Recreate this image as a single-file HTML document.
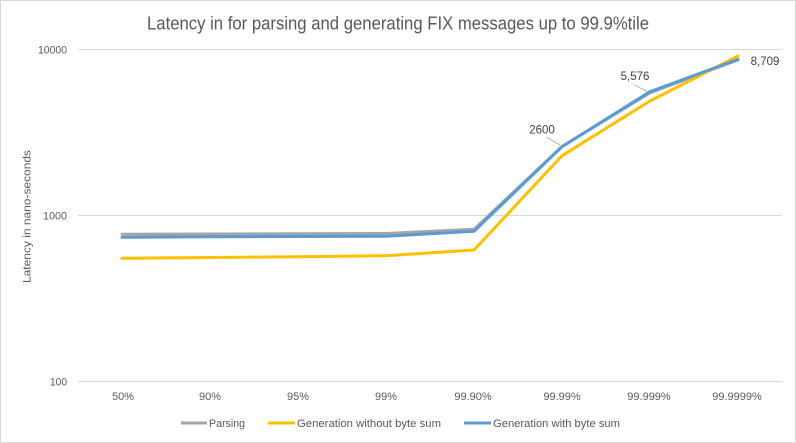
<!DOCTYPE html>
<html>
<head>
<meta charset="utf-8">
<style>
  html,body{margin:0;padding:0;background:#fff;}
  svg{display:block;font-family:"Liberation Sans",sans-serif;}
</style>
</head>
<body>
<svg width="796" height="443" viewBox="0 0 796 443" xmlns="http://www.w3.org/2000/svg">
  <rect x="0.5" y="0.5" width="795" height="442" fill="#fff" stroke="#d9d9d9" stroke-width="1"/>
  <!-- title -->
  <text x="398" y="29.5" text-anchor="middle" font-size="18" fill="#595959" textLength="502" lengthAdjust="spacingAndGlyphs">Latency in  for parsing and generating FIX messages up to 99.9%tile</text>
  <!-- gridlines -->
  <line x1="78" y1="49.5" x2="782" y2="49.5" stroke="#d9d9d9" stroke-width="1"/>
  <line x1="78" y1="215.5" x2="782" y2="215.5" stroke="#d9d9d9" stroke-width="1"/>
  <line x1="78" y1="381.5" x2="782" y2="381.5" stroke="#d9d9d9" stroke-width="1"/>
  <!-- y tick labels -->
  <g font-size="11" fill="#595959" text-anchor="end">
    <text x="67" y="53.5" textLength="29" lengthAdjust="spacingAndGlyphs">10000</text>
    <text x="67" y="219.5" textLength="24" lengthAdjust="spacingAndGlyphs">1000</text>
    <text x="67" y="385.5" textLength="17" lengthAdjust="spacingAndGlyphs">100</text>
  </g>
  <!-- y axis title -->
  <text transform="translate(30.5,216.5) rotate(-90)" text-anchor="middle" font-size="11" fill="#595959" textLength="133" lengthAdjust="spacingAndGlyphs">Latency in nano-seconds</text>
  <!-- x labels -->
  <g font-size="11" fill="#595959" text-anchor="middle">
    <text x="123" y="400">50%</text>
    <text x="210" y="400">90%</text>
    <text x="298" y="400">95%</text>
    <text x="386" y="400">99%</text>
    <text x="473" y="400">99.90%</text>
    <text x="562" y="400">99.99%</text>
    <text x="649" y="400">99.999%</text>
    <text x="737" y="400">99.9999%</text>
  </g>
  <!-- series -->
  <g fill="none" stroke-width="3" stroke-linejoin="round" stroke-linecap="round">
    <polyline stroke="#a5a5a5" points="122,234.3 210,234 298,233.8 386,233.5 474,229.3 562,146.5 650,92.8 738,59.8"/>
    <polyline stroke="#ffc000" points="122,258.3 210,257.5 298,256.7 386,255.7 474,250 562,155.7 650,101 738,56"/>
    <polyline stroke="#5b9bd5" points="122,237.3 210,236.8 298,236.5 386,236.2 474,231.3 562,146.7 650,91.6 738,59.4"/>
  </g>
  <!-- data labels -->
  <line x1="547" y1="137.5" x2="560" y2="145" stroke="#a5a5a5" stroke-width="0.8"/>
  <line x1="634" y1="84.5" x2="648" y2="92" stroke="#a5a5a5" stroke-width="0.8"/>
  <g font-size="11.5" fill="#404040" text-anchor="middle">
    <text x="542" y="133.5">2600</text>
    <text x="635" y="80">5,576</text>
    <text x="765" y="65">8,709</text>
  </g>
  <!-- legend -->
  <g stroke-width="3">
    <line x1="181" y1="423" x2="207" y2="423" stroke="#a5a5a5"/>
    <line x1="268" y1="423" x2="295" y2="423" stroke="#ffc000"/>
    <line x1="464" y1="423" x2="491" y2="423" stroke="#5b9bd5"/>
  </g>
  <g font-size="11" fill="#595959">
    <text x="209" y="427" textLength="36" lengthAdjust="spacingAndGlyphs">Parsing</text>
    <text x="297" y="427" textLength="144" lengthAdjust="spacingAndGlyphs">Generation without byte sum</text>
    <text x="493" y="427" textLength="127" lengthAdjust="spacingAndGlyphs">Generation with byte sum</text>
  </g>
</svg>
</body>
</html>
